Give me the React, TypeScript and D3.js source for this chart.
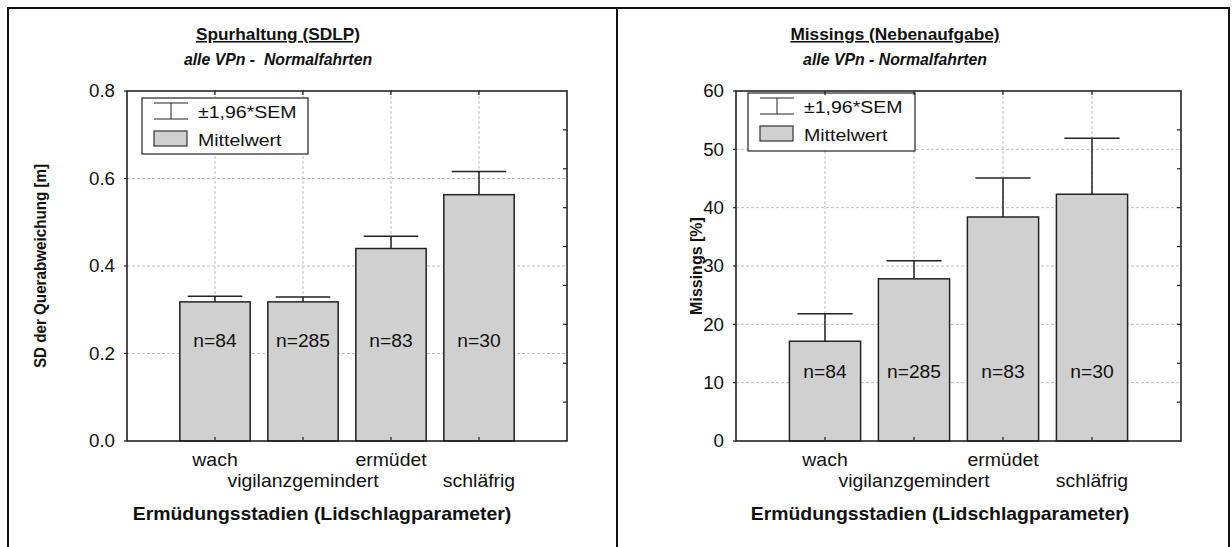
import React, { useEffect, useRef } from 'react';
import * as d3 from 'd3';

// categories along x (alternating label rows)
const stages = ['wach', 'vigilanzgemindert', 'ermüdet', 'schläfrig'];
const groupSizes = ['n=84', 'n=285', 'n=83', 'n=30'];

// SDLP (left)
const sdlpMean = [0.318, 0.318, 0.44, 0.563];
const sdlpUpper = [0.331, 0.329, 0.468, 0.616];
const sdlpTicks = [0, 0.2, 0.4, 0.6, 0.8];

// Missings (right)
const missMean = [17.1, 27.8, 38.4, 42.3];
const missUpper = [21.8, 30.9, 45.1, 51.9];
const missTicks = [0, 10, 20, 30, 40, 50, 60];

const FONT = "'Liberation Sans', Arial, sans-serif";

type Sel = d3.Selection<any, unknown, null, undefined>;

// text that is slightly stretched horizontally, like the original export
function txt(parent: Sel, x: number, y: number, s: string, size: number, sx: number, anchor = 'start', rot = 0) {
  return parent
    .append('text')
    .attr('transform', `translate(${x},${y}) rotate(${rot}) scale(${sx},1)`)
    .attr('text-anchor', anchor)
    .attr('font-size', size)
    .attr('fill', '#111')
    .text(s);
}

type Panel = {
  title: string;
  subtitle: string;
  titleX: number;
  yTitle: string;
  yTitleX: number;
  yTitleSx: number;
  xTitleX: number;
  left: number;
  right: number;
  yMax: number;
  ticks: number[];
  fmt: (v: number) => string;
  mean: number[];
  upper: number[];
  nAt: number;
  legend: { x: number; y: number; w: number; h: number };
};

function drawPanel(svg: Sel, p: Panel) {
  const top = 91;
  const bottom = 441;
  const x = d3.scaleLinear().domain([0, 5]).range([p.left, p.right]);
  const y = d3.scaleLinear().domain([0, p.yMax]).range([bottom, top]);
  const y9 = d3.scaleLinear().domain([0, 9]).range([bottom, top]);
  const g = svg.append('g').attr('font-family', FONT);

  // grid
  g.append('g')
    .selectAll('line')
    .data(p.ticks.slice(1, -1))
    .join('line')
    .attr('x1', p.left).attr('x2', p.right)
    .attr('y1', (d) => y(d)).attr('y2', (d) => y(d))
    .attr('stroke', '#bdbdbd').attr('stroke-dasharray', '3,2');
  g.append('g')
    .selectAll('line')
    .data([1, 2, 3, 4])
    .join('line')
    .attr('x1', (d) => x(d)).attr('x2', (d) => x(d))
    .attr('y1', top).attr('y2', bottom)
    .attr('stroke', '#bdbdbd').attr('stroke-dasharray', '3,2');

  // legend
  const L = p.legend;
  const lg = g.append('g');
  lg.append('rect').attr('x', L.x).attr('y', L.y).attr('width', L.w).attr('height', L.h)
    .attr('fill', '#fff').attr('stroke', '#222').attr('stroke-width', 1.2);
  const ix = L.x + 12;
  lg.append('line').attr('x1', ix).attr('x2', ix + 34).attr('y1', L.y + 5).attr('y2', L.y + 5).attr('stroke', '#222');
  lg.append('line').attr('x1', ix).attr('x2', ix + 34).attr('y1', L.y + 21).attr('y2', L.y + 21).attr('stroke', '#222');
  lg.append('line').attr('x1', ix + 17).attr('x2', ix + 17).attr('y1', L.y + 5).attr('y2', L.y + 21).attr('stroke', '#222');
  lg.append('rect').attr('x', ix).attr('y', L.y + 33).attr('width', 33).attr('height', 15)
    .attr('fill', '#d0d0d0').attr('stroke', '#333').attr('stroke-width', 1.2);
  txt(lg, ix + 44, L.y + 20, '±1,96*SEM', 17, 1.15);
  txt(lg, ix + 44, L.y + 48, 'Mittelwert', 17, 1.15);

  // bars
  const bw = 0.8;
  g.append('g')
    .selectAll('rect')
    .data(p.mean)
    .join('rect')
    .attr('x', (_, i) => x(i + 1 - bw / 2))
    .attr('width', x(bw) - x(0))
    .attr('y', (d) => y(d))
    .attr('height', (d) => bottom - y(d))
    .attr('fill', '#d0d0d0').attr('stroke', '#222').attr('stroke-width', 1.5);

  // error bars
  const eb = g.append('g').attr('stroke', '#222').attr('stroke-width', 1.5);
  p.upper.forEach((u, i) => {
    eb.append('line').attr('x1', x(i + 1)).attr('x2', x(i + 1)).attr('y1', y(p.mean[i])).attr('y2', y(u));
    eb.append('line').attr('x1', x(i + 1 - 0.31)).attr('x2', x(i + 1 + 0.31)).attr('y1', y(u)).attr('y2', y(u));
  });

  // n labels
  const nl = g.append('g');
  groupSizes.forEach((s, i) => {
    txt(nl, x(i + 1), y(p.nAt) + 6.5, s, 18, 1.07, 'middle');
  });

  // frame
  g.append('rect').attr('x', p.left).attr('y', top).attr('width', p.right - p.left).attr('height', bottom - top)
    .attr('fill', 'none').attr('stroke', '#222').attr('stroke-width', 1.6);

  // ticks: top & bottom (inward) at categories, right minor ticks, left ticks
  const tk = g.append('g').attr('stroke', '#222').attr('stroke-width', 1.2);
  [1, 2, 3, 4].forEach((c) => {
    tk.append('line').attr('x1', x(c)).attr('x2', x(c)).attr('y1', top).attr('y2', top + 4);
    tk.append('line').attr('x1', x(c)).attr('x2', x(c)).attr('y1', bottom).attr('y2', bottom - 4);
  });
  d3.range(1, 9).forEach((k) => {
    tk.append('line').attr('x1', p.right).attr('x2', p.right - 4).attr('y1', y9(k)).attr('y2', y9(k));
  });
  p.ticks.forEach((t) => {
    tk.append('line').attr('x1', p.left).attr('x2', p.left - 3).attr('y1', y(t)).attr('y2', y(t));
  });

  // y tick labels
  const yl = g.append('g');
  p.ticks.forEach((t) => {
    txt(yl, p.left - 12, y(t) + 6.3, p.fmt(t), 17.5, 1.07, 'end');
  });

  // category labels
  const cl = g.append('g');
  stages.forEach((s, i) => {
    txt(cl, x(i + 1), i % 2 === 0 ? 466 : 487, s, 18, 1.08, 'middle');
  });

  // titles
  txt(g, p.titleX, 40, p.title, 16, 1.08, 'middle')
    .attr('font-weight', 'bold').attr('text-decoration', 'underline');
  txt(g, p.titleX, 65, p.subtitle, 16, 0.99, 'middle')
    .attr('font-weight', 'bold').attr('font-style', 'italic').style('white-space', 'pre');
  txt(g, p.xTitleX, 520, 'Ermüdungsstadien (Lidschlagparameter)', 17.5, 1.11, 'middle')
    .attr('font-weight', 'bold');
  txt(g, p.yTitleX + 5.5, (top + bottom) / 2, p.yTitle, 16, p.yTitleSx, 'middle', -90)
    .attr('font-weight', 'bold');
}

export default function App() {
  const ref = useRef<SVGSVGElement>(null);

  useEffect(() => {
    const svg = d3.select(ref.current as SVGSVGElement) as Sel;
    svg.selectAll('*').remove();

    // outer frames
    svg.append('rect').attr('x', 8).attr('y', 8).attr('width', 1221).attr('height', 560)
      .attr('fill', 'none').attr('stroke', '#111').attr('stroke-width', 2);
    svg.append('line').attr('x1', 617).attr('x2', 617).attr('y1', 8).attr('y2', 547)
      .attr('stroke', '#111').attr('stroke-width', 2);

    drawPanel(svg, {
      title: 'Spurhaltung (SDLP)',
      subtitle: 'alle VPn -  Normalfahrten',
      titleX: 278,
      yTitle: 'SD der Querabweichung [m]',
      yTitleX: 40,
      yTitleSx: 0.95,
      xTitleX: 322,
      left: 127,
      right: 567,
      yMax: 0.8,
      ticks: sdlpTicks,
      fmt: d3.format('.1f'),
      mean: sdlpMean,
      upper: sdlpUpper,
      nAt: 0.23,
      legend: { x: 142, y: 98, w: 166, h: 56 },
    });

    drawPanel(svg, {
      title: 'Missings (Nebenaufgabe)',
      subtitle: 'alle VPn - Normalfahrten',
      titleX: 895,
      yTitle: 'Missings [%]',
      yTitleX: 696,
      yTitleSx: 1.0,
      xTitleX: 940,
      left: 736,
      right: 1181,
      yMax: 60,
      ticks: missTicks,
      fmt: d3.format('d'),
      mean: missMean,
      upper: missUpper,
      nAt: 12,
      legend: { x: 748, y: 93, w: 167, h: 58 },
    });
  }, []);

  return (
    <svg
      ref={ref}
      width={1232}
      height={547}
      style={{ position: 'absolute', left: 0, top: 0, background: '#fff' }}
    />
  );
}
